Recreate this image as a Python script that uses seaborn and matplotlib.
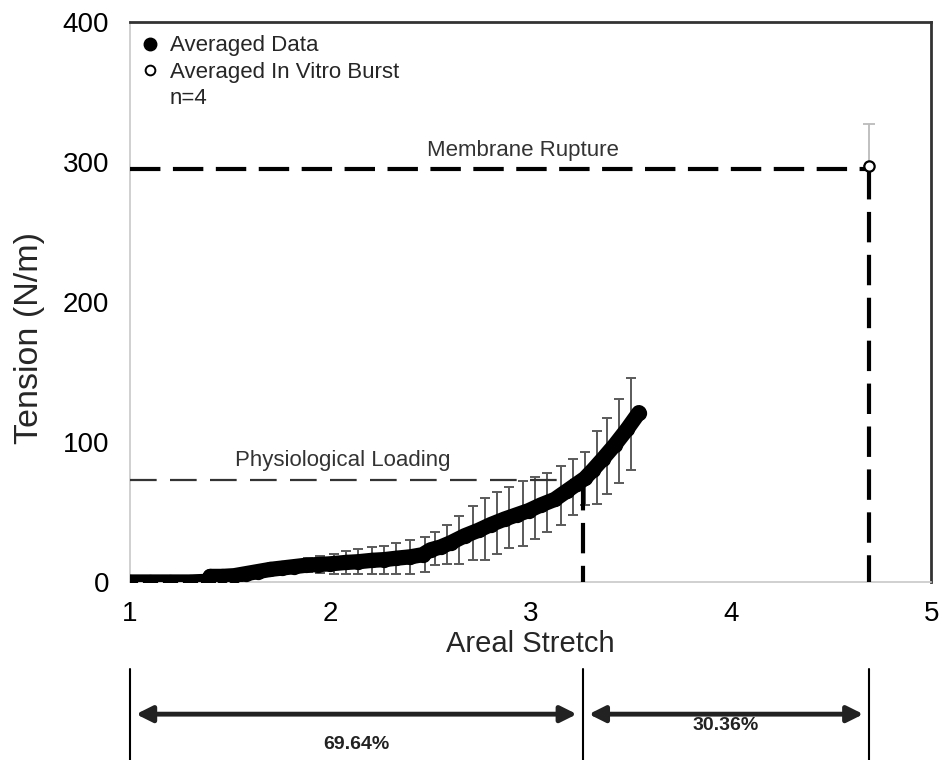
import numpy as np
import pandas as pd
import seaborn as sns
import matplotlib.pyplot as plt
from matplotlib.lines import Line2D
import matplotlib.transforms as mtransforms

# averaged tension curve
stretch = [1.00, 1.10, 1.20, 1.30, 1.39, 1.40, 1.46, 1.52, 1.58, 1.64, 1.70, 1.76,
           1.82, 1.88, 1.94, 2.00, 2.08, 2.14, 2.21, 2.27, 2.33, 2.40, 2.46, 2.50,
           2.55, 2.60, 2.67, 2.74, 2.80, 2.87, 2.93, 2.99, 3.05, 3.12, 3.18, 3.23,
           3.27, 3.31, 3.36, 3.42, 3.48, 3.54]
tension = [0, 0, 0, 0, 0.5, 4, 4, 4.5, 6, 7.5, 9, 10,
           11, 12, 12.5, 13, 14, 14.5, 15.5, 16, 17, 18, 19.5, 23,
           25, 28, 33, 37, 41, 45, 48, 51, 55, 59, 65, 70,
           74, 80, 88, 98, 109, 121]

# error bars (subset of the curve)
err_stretch = [1.76, 1.82, 1.89, 1.95, 2.02, 2.08, 2.14, 2.21, 2.27, 2.33, 2.40, 2.47,
               2.52, 2.58, 2.64, 2.71, 2.77, 2.83, 2.89, 2.96, 3.02, 3.08, 3.15, 3.21,
               3.27, 3.33, 3.38, 3.44, 3.50]
err_mean = [10, 11, 12, 12.5, 13, 14, 14.5, 15.5, 16, 17, 18, 19.5,
            24, 27, 30, 35, 38, 42, 46, 49, 53, 57, 62, 68,
            74, 82, 90, 101, 113]
err_sd = [3, 4, 5, 6, 7, 8, 9, 9.5, 10, 11, 12, 12.5,
          12, 14, 17, 19, 22, 22, 22, 23, 22, 21, 21, 20,
          19, 26, 27, 30, 33]

# in vitro burst
burst_stretch = [4.69]
burst_tension = [297]
burst_sd = [30]

rupture_level = 295
physio_level = 73
physio_stretch = 3.26
pct_labels = ['69.64%', '30.36%']

sns.set_style('white')
plt.rcParams['font.family'] = ['Liberation Sans', 'DejaVu Sans']

df = pd.DataFrame({'stretch': stretch, 'tension': tension})

fig = plt.figure(figsize=(9.44, 7.6), dpi=100)
ax = fig.add_axes([0.1377, 0.2342, 0.8490, 0.7368])

# error bars first
ax.errorbar(err_stretch, err_mean, yerr=err_sd, fmt='none', ecolor='#5a5a5a',
            elinewidth=1.4, capsize=3.5, capthick=1.4, zorder=2)
ax.errorbar(burst_stretch, burst_tension, yerr=[[0], burst_sd], fmt='none', ecolor='#bbbbbb',
            elinewidth=1.3, capsize=4, capthick=1.3, zorder=2)

sns.lineplot(data=df, x='stretch', y='tension', ax=ax, color='black', lw=11,
             marker='o', markersize=11, markeredgewidth=0, sort=False,
             estimator=None, zorder=4)
ax.lines[-1].set_solid_capstyle('round')

# dashed reference lines
dash = (0, (7.3, 3))
ax.plot([1, burst_stretch[0]], [rupture_level, rupture_level], color='black', lw=3, ls=dash, zorder=3)
ax.plot([burst_stretch[0], burst_stretch[0]], [rupture_level, 0], color='black', lw=3, ls=dash, zorder=3)
ax.plot([1, physio_stretch], [physio_level, physio_level], color='#333333', lw=1.6, ls=(0, (12, 6)), zorder=3)
ax.plot([physio_stretch, physio_stretch], [physio_level, 0], color='black', lw=3, ls=dash, zorder=3)

sns.scatterplot(x=burst_stretch, y=burst_tension, ax=ax, s=55, facecolor='white',
                edgecolor='black', linewidth=1.6, zorder=5)

ax.text(2.96, rupture_level + 6, 'Membrane Rupture', ha='center', va='bottom',
        fontsize=16, color='#333333')
ax.text(2.06, physio_level + 6, 'Physiological Loading', ha='center', va='bottom',
        fontsize=16, color='#333333')

ax.set_xlim(1, 5)
ax.set_ylim(0, 400)
ax.set_xticks([1, 2, 3, 4, 5])
ax.set_yticks([0, 100, 200, 300, 400])
ax.tick_params(axis='both', direction='out', length=7, width=1, color='#aaaaaa',
               labelsize=20, labelcolor='black')
ax.tick_params(axis='y', pad=8)
ax.tick_params(axis='x', pad=7)
ax.set_xlabel('Areal Stretch', fontsize=21, labelpad=2)
ax.set_ylabel('Tension (N/m)', fontsize=24.5)
ax.yaxis.set_label_coords(-0.106, 0.435)

for side in ['left', 'bottom']:
    ax.spines[side].set_color('#c8c8c8')
    ax.spines[side].set_linewidth(1.2)
for side in ['top', 'right']:
    ax.spines[side].set_color('#333333')
    ax.spines[side].set_linewidth(2)

handles = [Line2D([], [], marker='o', ls='', color='black', markersize=9),
           Line2D([], [], marker='o', ls='', markerfacecolor='white',
                  markeredgecolor='black', markeredgewidth=1.4, markersize=7),
           Line2D([], [], ls='', marker='')]
ax.legend(handles, ['Averaged Data', 'Averaged In Vitro Burst', 'n=4'],
          loc='upper left', bbox_to_anchor=(-0.02, 1.012), frameon=False,
          fontsize=16, handletextpad=0.2, labelspacing=0.24, handlelength=1.4)

# percentage brackets under the axis
trans = mtransforms.blended_transform_factory(ax.transData, ax.transAxes)
edges = [1, physio_stretch, burst_stretch[0]]
for xv in edges:
    ax.plot([xv, xv], [-0.155, -0.32], color='black', lw=1.5, transform=trans, clip_on=False)
for i in range(2):
    ax.annotate('', xy=(edges[i] + 0.03, -0.236), xytext=(edges[i + 1] - 0.03, -0.236),
                xycoords=trans, textcoords=trans,
                arrowprops=dict(arrowstyle='<|-|>', color='#222222', lw=3.5,
                                mutation_scale=24, shrinkA=0, shrinkB=0))
ax.text((edges[0] + edges[1]) / 2, -0.291, pct_labels[0], transform=trans,
        ha='center', va='center', fontsize=14, fontweight='bold', color='#222222')
ax.text((edges[1] + edges[2]) / 2, -0.257, pct_labels[1], transform=trans,
        ha='center', va='center', fontsize=14, fontweight='bold', color='#222222')

fig.savefig('out.png', dpi=100)
